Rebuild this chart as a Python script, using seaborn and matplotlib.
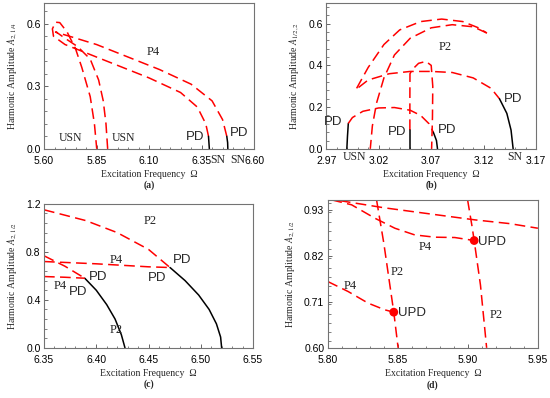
import numpy as np
import matplotlib
matplotlib.use("Agg")
import matplotlib.pyplot as plt
from matplotlib.ticker import MultipleLocator, FixedLocator
import seaborn as sns

# ---- panel (a) data ----
a_inner_red_x = [6.383, 6.37, 6.33, 6.25, 6.10, 5.95, 5.80, 5.70, 5.645, 5.64, 5.655, 5.675, 5.71, 5.75, 5.78, 5.82, 5.84, 5.851]
a_inner_red_y = [0.06, 0.12, 0.20, 0.27, 0.34, 0.40, 0.46, 0.50, 0.54, 0.575, 0.607, 0.605, 0.56, 0.48, 0.39, 0.25, 0.12, 0.0]
a_inner_blk_x = [6.387, 6.385, 6.383]
a_inner_blk_y = [0.0, 0.03, 0.06]
a_outer_red_x = [6.47, 6.45, 6.40, 6.30, 6.15, 6.00, 5.85, 5.72, 5.67, 5.655, 5.665, 5.70, 5.76, 5.82, 5.86, 5.882, 5.895, 5.903]
a_outer_red_y = [0.06, 0.14, 0.23, 0.31, 0.38, 0.44, 0.50, 0.54, 0.555, 0.56, 0.555, 0.53, 0.49, 0.43, 0.33, 0.23, 0.12, 0.0]
a_outer_blk_x = [6.475, 6.474, 6.47]
a_outer_blk_y = [0.0, 0.03, 0.06]

# ---- panel (b) data ----
b_low_blk1_x = [2.9897, 2.9903, 2.9911]
b_low_blk1_y = [0.0, 0.06, 0.122]
b_low_red_x = [2.9911, 2.995, 3.005, 3.02, 3.035, 3.05, 3.06, 3.068, 3.072]
b_low_red_y = [0.122, 0.15, 0.18, 0.196, 0.198, 0.185, 0.16, 0.12, 0.08]
b_low_blk2_x = [3.072, 3.075, 3.076]
b_low_blk2_y = [0.08, 0.04, 0.0]
b_big_red_x = [3.0008, 3.01, 3.03, 3.05, 3.07, 3.09, 3.11, 3.127, 3.135]
b_big_red_y = [0.294, 0.33, 0.36, 0.371, 0.371, 0.366, 0.34, 0.29, 0.24]
b_big_blk_x = [3.135, 3.142, 3.146, 3.148]
b_big_blk_y = [0.24, 0.17, 0.09, 0.0]
b_top_outer_x = [2.999, 3.01, 3.025, 3.04, 3.06, 3.08, 3.10, 3.115, 3.123]
b_top_outer_y = [0.29, 0.39, 0.50, 0.57, 0.61, 0.622, 0.61, 0.58, 0.555]
b_top_inner_x = [3.123, 3.11, 3.09, 3.07, 3.05, 3.035, 3.025, 3.018, 3.014, 3.012]
b_top_inner_y = [0.555, 0.585, 0.595, 0.58, 0.53, 0.45, 0.34, 0.22, 0.11, 0.0]
b_vert_red_x = [3.0497, 3.0497, 3.0498, 3.052, 3.058, 3.065, 3.070, 3.0715, 3.0712, 3.0704]
b_vert_red_y = [0.09, 0.25, 0.36, 0.38, 0.41, 0.419, 0.40, 0.30, 0.15, 0.0]
b_vert_blk_x = [3.0497, 3.0497]
b_vert_blk_y = [0.0, 0.09]

# ---- panel (c) data ----
c_top_red_x = [6.35, 6.39, 6.42, 6.45, 6.4706]
c_top_red_y = [1.15, 1.06, 0.96, 0.82, 0.669]
c_top_blk_x = [6.4706, 6.485, 6.498, 6.508, 6.515, 6.519, 6.520]
c_top_blk_y = [0.669, 0.56, 0.44, 0.32, 0.20, 0.09, 0.0]
c_p4_up_x = [6.35, 6.40, 6.45, 6.4706]
c_p4_up_y = [0.719, 0.70, 0.675, 0.669]
c_low_red_x = [6.35, 6.37, 6.389]
c_low_red_y = [0.767, 0.68, 0.58]
c_low_blk_x = [6.389, 6.40, 6.41, 6.418, 6.424, 6.4275]
c_low_blk_y = [0.58, 0.48, 0.36, 0.24, 0.11, 0.0]
c_p4_low_x = [6.35, 6.37, 6.389]
c_p4_low_y = [0.594, 0.588, 0.58]

# ---- panel (d) data ----
d_p2_left_x = [5.8348, 5.840, 5.8471, 5.8502]
d_p2_left_y = [0.954, 0.85, 0.6853, 0.60]
d_p2_right_x = [5.8998, 5.903, 5.9045, 5.909, 5.9134]
d_p2_right_y = [0.954, 0.89, 0.8566, 0.75, 0.60]
d_long_x = [5.8086, 5.84, 5.869, 5.905, 5.93, 5.95]
d_long_y = [0.952, 0.935, 0.922, 0.906, 0.897, 0.886]
d_p4_up_x = [5.8026, 5.817, 5.8336, 5.8479, 5.8621, 5.8764, 5.8907, 5.9045]
d_p4_up_y = [0.954, 0.942, 0.910, 0.886, 0.870, 0.8646, 0.8638, 0.8566]
d_p4_low_x = [5.80, 5.8145, 5.8288, 5.8407, 5.8471]
d_p4_low_y = [0.7586, 0.7347, 0.7069, 0.6909, 0.6853]
d_upd_x = [5.8471, 5.9045]
d_upd_y = [0.6853, 0.8566]

sns.set_style("ticks")
plt.rcParams["font.family"] = ["Liberation Sans", "DejaVu Sans"]
plt.rcParams["mathtext.fontset"] = "stix"
plt.rcParams["xtick.direction"] = "in"
plt.rcParams["ytick.direction"] = "in"

RED = "#ff0000"
DASH = (0, (7, 3.5))
SERIF = ["Liberation Serif", "DejaVu Serif"]


def draw(ax, xs, ys, dashed=True):
    sns.lineplot(x=xs, y=ys, sort=False, estimator=None, ax=ax, legend=False,
                 color=RED if dashed else "black", lw=1.1,
                 linestyle=DASH if dashed else "-")


def sans(ax, x, y, s, size=9.5):
    ax.text(x, y, s, fontsize=size, ha="center", va="center", clip_on=False)


def serif(ax, x, y, s, size=9):
    ax.text(x, y, s, fontsize=size, family=SERIF, ha="center", va="center", clip_on=False)


def style(ax, xlim, ylim, xticks, yticks, xminor, yminor, ylabel, xfmt, yfmt, cap):
    ax.set_xlim(*xlim)
    ax.set_ylim(*ylim)
    ax.xaxis.set_major_locator(FixedLocator(xticks))
    ax.yaxis.set_major_locator(FixedLocator(yticks))
    ax.set_xticklabels([xfmt.format(v) for v in xticks])
    ax.set_yticklabels([yfmt.format(v) for v in yticks])
    ax.xaxis.set_minor_locator(MultipleLocator(xminor))
    ax.yaxis.set_minor_locator(MultipleLocator(yminor))
    ax.tick_params(which="major", length=3, width=0.6, labelsize=7.5, colors="0.3", labelcolor="black")
    ax.tick_params(axis="x", which="major", pad=5)
    ax.tick_params(axis="y", which="major", pad=2.5)
    ax.tick_params(which="minor", length=1.8, width=0.5, colors="0.3")
    for sp in ax.spines.values():
        sp.set_color("0.45")
        sp.set_linewidth(0.8)
        sp.set_visible(True)
    ax.set_xlabel("Excitation Frequency  \u03a9", fontsize=7, family=SERIF, labelpad=3)
    ax.set_ylabel("Harmonic Amplitude " + ylabel, fontsize=7, family=SERIF, labelpad=5)
    ax.text(0.5, -0.25, cap, transform=ax.transAxes, fontsize=7, family=SERIF,
            fontweight="bold", ha="center", va="center")


fig = plt.figure(figsize=(5.5, 3.98), dpi=100)
axa = fig.add_axes([0.080, 0.626, 0.382, 0.367])
axb = fig.add_axes([0.593, 0.626, 0.382, 0.367])
axc = fig.add_axes([0.080, 0.126, 0.380, 0.362])
axd = fig.add_axes([0.596, 0.126, 0.382, 0.372])

# (a)
draw(axa, a_inner_red_x, a_inner_red_y)
draw(axa, a_inner_blk_x, a_inner_blk_y, dashed=False)
draw(axa, a_outer_red_x, a_outer_red_y)
draw(axa, a_outer_blk_x, a_outer_blk_y, dashed=False)
style(axa, (5.60, 6.60), (0, 0.70), [5.60, 5.85, 6.10, 6.35, 6.60], [0.0, 0.3, 0.6],
      0.05, 0.06, "$A_{2,1/4}$", "{:.2f}", "{:.1f}", "(a)")
serif(axa, 6.119, 0.462, "P4")
serif(axa, 5.724, 0.052, "USN", 8.5)
serif(axa, 5.976, 0.052, "USN", 8.5)
sans(axa, 6.319, 0.057, "PD")
sans(axa, 6.529, 0.076, "PD")
serif(axa, 6.429, -0.052, "SN", 8.5)
serif(axa, 6.52, -0.052, "SN", 8.5)

# (b)
draw(axb, b_low_blk1_x, b_low_blk1_y, dashed=False)
draw(axb, b_low_red_x, b_low_red_y)
draw(axb, b_low_blk2_x, b_low_blk2_y, dashed=False)
draw(axb, b_big_red_x, b_big_red_y)
draw(axb, b_big_blk_x, b_big_blk_y, dashed=False)
draw(axb, b_top_outer_x, b_top_outer_y)
draw(axb, b_top_inner_x, b_top_inner_y)
draw(axb, b_vert_red_x, b_vert_red_y)
draw(axb, b_vert_blk_x, b_vert_blk_y, dashed=False)
style(axb, (2.97, 3.17), (0, 0.70), [2.97, 3.02, 3.07, 3.12, 3.17], [0.0, 0.2, 0.4, 0.6],
      0.01, 0.04, "$A_{1/2,2}$", "{:.2f}", "{:.1f}", "(b)")
serif(axb, 3.0833, 0.487, "P2")
sans(axb, 2.977, 0.13, "PD")
sans(axb, 3.0373, 0.082, "PD")
sans(axb, 3.0853, 0.09, "PD")
sans(axb, 3.1478, 0.237, "PD")
serif(axb, 2.9965, -0.04, "USN", 8.5)
serif(axb, 3.1495, -0.04, "SN", 8.5)

# (c)
draw(axc, c_top_red_x, c_top_red_y)
draw(axc, c_top_blk_x, c_top_blk_y, dashed=False)
draw(axc, c_p4_up_x, c_p4_up_y)
draw(axc, c_low_red_x, c_low_red_y)
draw(axc, c_low_blk_x, c_low_blk_y, dashed=False)
draw(axc, c_p4_low_x, c_p4_low_y)
style(axc, (6.35, 6.55), (0, 1.2), [6.35, 6.40, 6.45, 6.50, 6.55], [0.0, 0.4, 0.8, 1.2],
      0.01, 0.08, "$A_{2,1/2}$", "{:.2f}", "{:.1f}", "(c)")
serif(axc, 6.4514, 1.053, "P2")
serif(axc, 6.4196, 0.733, "P4")
sans(axc, 6.4818, 0.728, "PD")
sans(axc, 6.4578, 0.581, "PD")
sans(axc, 6.402, 0.594, "PD")
serif(axc, 6.3653, 0.511, "P4")
sans(axc, 6.3828, 0.469, "PD")
serif(axc, 6.4196, 0.15, "P2")

# (d)
draw(axd, d_p2_left_x, d_p2_left_y)
draw(axd, d_p2_right_x, d_p2_right_y)
draw(axd, d_long_x, d_long_y)
draw(axd, d_p4_up_x, d_p4_up_y)
draw(axd, d_p4_low_x, d_p4_low_y)
sns.scatterplot(x=d_upd_x, y=d_upd_y, color=RED, s=40, edgecolor="none", ax=axd, zorder=5, legend=False)
style(axd, (5.80, 5.95), (0.60, 0.954), [5.80, 5.85, 5.90, 5.95], [0.60, 0.71, 0.82, 0.93],
      0.01, 0.022, "$A_{2,1/2}$", "{:.2f}", "{:.2f}", "(d)")
serif(axd, 5.8693, 0.842, "P4")
sans(axd, 5.9169, 0.854, "UPD")
serif(axd, 5.8498, 0.781, "P2")
serif(axd, 5.8157, 0.749, "P4")
sans(axd, 5.8598, 0.683, "UPD")
serif(axd, 5.9205, 0.679, "P2")

fig.savefig("out.png", dpi=100)
